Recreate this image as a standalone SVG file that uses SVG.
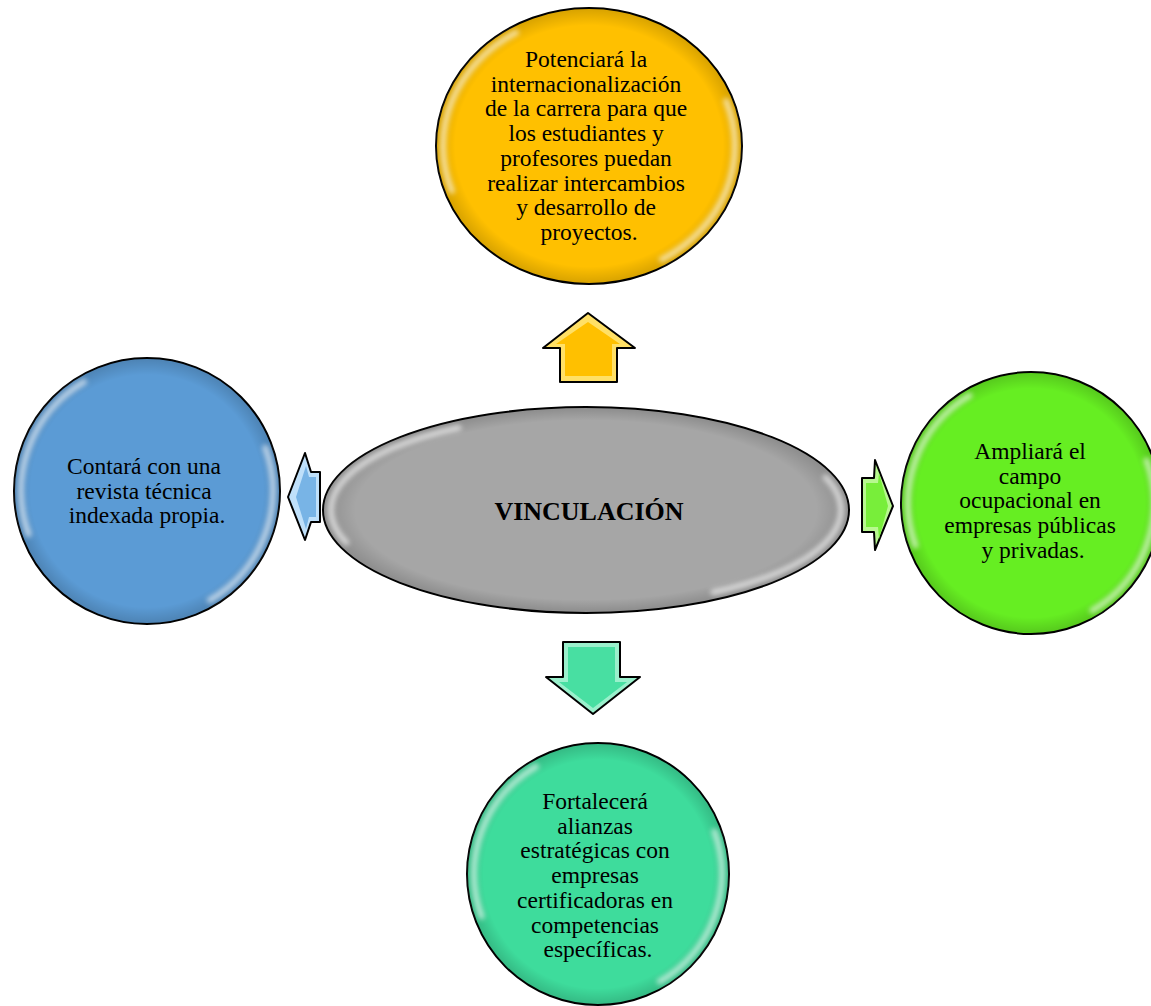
<svg xmlns="http://www.w3.org/2000/svg" width="1151" height="1006" viewBox="0 0 1151 1006">
<style>
.node{stroke:#000;stroke-width:2}
.hl{fill:none;stroke:#fff;stroke-width:6;stroke-linecap:round;opacity:0.6;filter:url(#blur)}
.shade{fill:url(#rim);stroke:none}
.t{font-family:"Liberation Serif","Times New Roman",serif;font-size:23.5px;fill:#000;text-anchor:middle}
.tb{font-family:"Liberation Serif","Times New Roman",serif;font-size:26px;font-weight:bold;fill:#000;text-anchor:middle}
.arr{stroke:#000;stroke-width:2;stroke-linejoin:round}
.inner{stroke:none}
</style>
<defs>
<filter id="blur" x="-20%" y="-20%" width="140%" height="140%"><feGaussianBlur stdDeviation="2.4"/></filter>
<radialGradient id="rim" cx="0.5" cy="0.5" r="0.5">
<stop offset="0" stop-color="#000" stop-opacity="0"/>
<stop offset="0.88" stop-color="#000" stop-opacity="0"/>
<stop offset="1" stop-color="#000" stop-opacity="0.15"/>
</radialGradient>
</defs>
<rect width="1151" height="1006" fill="#fff"/>

<g id="connectors">
<g id="arrow-up">
<polygon class="arr" fill="#FFE066" points="588,313 635,348 617,348 617,382 560,382 560,348 543,348"/>
<polygon class="inner" fill="#FFC000" points="588,322 620,344 612,344 612,376 565,376 565,344 556,344"/>
</g>
<g id="arrow-left">
<polygon class="arr" fill="#BFE0FA" points="288,497 305,453 311,472 320,472 320,522 311,522 305,540"/>
<polygon class="inner" fill="#78B4E6" points="296,497 306,466 309,477 316,477 316,517 309,517 306,529"/>
</g>
<g id="arrow-right">
<polygon class="arr" fill="#B8F890" points="862,478 874,478 875,460 893,506 875,550 874,532 862,532"/>
<polygon class="inner" fill="#78EE3A" points="866,483 878,483 879,473 888,506 879,539 878,527 866,527"/>
</g>
<g id="arrow-down">
<polygon class="arr" fill="#9AF0CC" points="563,642 620,642 620,677 640,677 593,714 546,677 563,677"/>
<polygon class="inner" fill="#48DFA2" points="568,647 615,647 615,682 627,682 593,708 559,682 568,682"/>
</g>
</g>

<g id="node-top">
<ellipse class="node" cx="589" cy="146" rx="153" ry="138" fill="#FFC000"/>
<ellipse class="shade" cx="589" cy="146" rx="152" ry="137"/>
<path class="hl" d="M451.8,190.8 A146,131 0 0 1 516,32.6"/>
<path class="hl" d="M726.2,101.2 A146,131 0 0 1 662,259.4"/>
<text class="t">
<tspan x="589" y="67">Potenciará la</tspan>
<tspan x="589" y="91.7">internacionalización</tspan>
<tspan x="589" y="116.4">de la carrera para que</tspan>
<tspan x="589" y="141.1">los estudiantes y</tspan>
<tspan x="589" y="165.8">profesores puedan</tspan>
<tspan x="589" y="190.5">realizar intercambios</tspan>
<tspan x="589" y="215.2">y desarrollo de</tspan>
<tspan x="589" y="239.9">proyectos.</tspan>
</text>
</g>

<g id="node-center">
<ellipse class="node" cx="586" cy="510" rx="263" ry="103" fill="#A6A6A6"/>
<ellipse class="shade" cx="586" cy="510" rx="262" ry="102"/>
<path class="hl" d="M346.3,542.5 A255,95 0 0 1 458.5,427.7"/>
<path class="hl" d="M825.7,477.5 A255,95 0 0 1 713.5,592.3"/>
<text class="tb" x="589" y="520">VINCULACIÓN</text>
</g>

<g id="node-left">
<ellipse class="node" cx="147" cy="491" rx="133" ry="133" fill="#5B9BD5"/>
<ellipse class="shade" cx="147" cy="491" rx="132" ry="132"/>
<path class="hl" d="M28.6,534.1 A126,126 0 0 1 84,381.9"/>
<path class="hl" d="M265.4,447.9 A126,126 0 0 1 210,600.1"/>
<text class="t">
<tspan x="147" y="474">Contará con una</tspan>
<tspan x="147" y="498.7">revista técnica</tspan>
<tspan x="147" y="523.4">indexada propia.</tspan>
</text>
</g>

<g id="node-right">
<ellipse class="node" cx="1031" cy="503" rx="130" ry="131" fill="#66EE22"/>
<ellipse class="shade" cx="1031" cy="503" rx="129" ry="130"/>
<path class="hl" d="M915.4,545.4 A123,124 0 0 1 969.5,395.6"/>
<path class="hl" d="M1146.6,460.6 A123,124 0 0 1 1092.5,610.4"/>
<text class="t">
<tspan x="1033" y="459">Ampliará el</tspan>
<tspan x="1033" y="483.7">campo</tspan>
<tspan x="1033" y="508.4">ocupacional en</tspan>
<tspan x="1033" y="533.1">empresas públicas</tspan>
<tspan x="1033" y="557.8">y privadas.</tspan>
</text>
</g>

<g id="node-bottom">
<ellipse class="node" cx="598" cy="874" rx="131" ry="131" fill="#3EDC9C"/>
<ellipse class="shade" cx="598" cy="874" rx="130" ry="130"/>
<path class="hl" d="M481.5,916.4 A124,124 0 0 1 536,766.6"/>
<path class="hl" d="M714.5,831.6 A124,124 0 0 1 660,981.4"/>
<text class="t">
<tspan x="598" y="809">Fortalecerá</tspan>
<tspan x="598" y="833.7">alianzas</tspan>
<tspan x="598" y="858.4">estratégicas con</tspan>
<tspan x="598" y="883.1">empresas</tspan>
<tspan x="598" y="907.8">certificadoras en</tspan>
<tspan x="598" y="932.5">competencias</tspan>
<tspan x="598" y="957.2">específicas.</tspan>
</text>
</g>
</svg>
